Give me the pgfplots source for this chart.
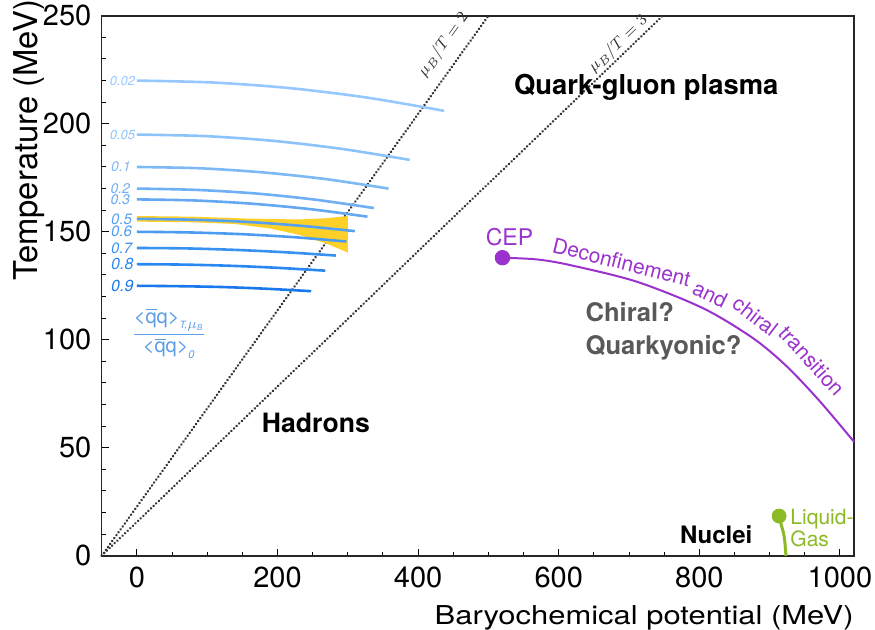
\documentclass[border=0pt]{standalone}
\usepackage{pgfplots}
\pgfplotsset{compat=1.18}
\usepackage{graphicx}
\usepackage{fontspec}
\setmainfont{TeX Gyre Heros}

\definecolor{ca}{HTML}{96C8FF}
\definecolor{cb}{HTML}{8CC3FA}
\definecolor{cc}{HTML}{7DB9F5}
\definecolor{cd}{HTML}{6EAFF5}
\definecolor{ce}{HTML}{64A8F2}
\definecolor{cf}{HTML}{55A0F0}
\definecolor{cg}{HTML}{4B9BF0}
\definecolor{ch}{HTML}{3791F0}
\definecolor{ci}{HTML}{2887F0}
\definecolor{cj}{HTML}{1978EB}
\definecolor{bandy}{HTML}{FFD028}
\definecolor{purp}{HTML}{9B32CD}
\definecolor{greenc}{HTML}{8CBA25}
\definecolor{grayc}{HTML}{595959}
\definecolor{dotc}{HTML}{333333}
\definecolor{fracc}{HTML}{5B9EE6}

\begin{document}
\begin{tikzpicture}
\path (-50.85pt,-36.65pt) rectangle (386.65pt,277.85pt);
\begin{axis}[
  at={(0,0)}, anchor=south west,
  scale only axis, width=376.15pt, height=270pt,
  xmin=-50, xmax=1020, ymin=0, ymax=250,
  clip=false,
  xtick={0,200,...,1000}, ytick={0,50,...,250},
  minor x tick num=3, minor y tick num=4,
  tick pos=left, tick align=inside,
  major tick length=3.5pt, minor tick length=2pt,
  every tick/.style={black, line width=0.5pt},
  axis line style={line width=0.8pt, black!85},
  /pgf/number format/assume math mode=true,
  /pgf/number format/1000 sep={},
  ticklabel style={font=\fontsize{14.5}{14.5}\selectfont},
  yticklabel style={inner sep=0pt, xshift=-5pt},
  xticklabel style={inner sep=0pt, yshift=-5.5pt},
  xlabel={\scalebox{1.19}[1]{Baryochemical potential (MeV)}},
  ylabel={Temperature (MeV)},
  xlabel style={font=\fontsize{13}{13}\selectfont, inner sep=0pt, at={(rel axis cs:1,0)}, yshift=-24.5pt, anchor=north east},
  ylabel style={font=\fontsize{16.4}{16.4}\selectfont, inner sep=0pt, at={(rel axis cs:-0.0754,1.03)}, anchor=south east},
]
% dotted mu_B/T lines
\addplot[dotc, line width=1.3pt, line cap=round, dash pattern=on 0.1pt off 1.7pt] coordinates {(-50,0) (500,250)};
\addplot[dotc, line width=1.3pt, line cap=round, dash pattern=on 0.1pt off 1.7pt] coordinates {(-50,0) (748,250)};

% yellow band
\addplot[fill=bandy, draw=none] coordinates {(0,157.3) (80,157) (160,156.1) (230,155.7) (270,156.3) (300,157.3) (300,140.4) (270,144.5) (232,148.5) (190,151.5) (140,153.6) (80,154.4) (0,154.7)} -- cycle;

% chiral condensate contours
\addplot[ca, line width=1.3pt, smooth] coordinates {(0,220) (109,219.1) (218,216.5) (328,212.1) (437,206)};
\addplot[cb, line width=1.3pt, smooth] coordinates {(0,195) (97,194.3) (194,192.1) (291,188.4) (388,183.3)};
\addplot[cc, line width=1.3pt, smooth] coordinates {(0,180) (89.5,179.4) (179,177.5) (268.5,174.4) (358,170)};
\addplot[cd, line width=1.3pt, smooth] coordinates {(0,170) (84,169.4) (168.5,167.75) (253,164.9) (337,161)};
\addplot[ce, line width=1.3pt, smooth] coordinates {(0,165) (82,164.5) (164,163) (246,160.5) (328,157)};
\addplot[cf, line width=1.3pt, smooth] coordinates {(0,156) (77.5,155.6) (155,154.6) (232.5,152.8) (310,150.3)};
\addplot[cg, line width=1.3pt, smooth] coordinates {(0,150) (74.5,149.7) (149,148.9) (223.5,147.5) (298,145.5)};
\addplot[ch, line width=1.3pt, smooth] coordinates {(0,142.5) (70.75,142.3) (141.5,141.6) (212.25,140.5) (283,139)};
\addplot[ci, line width=1.3pt, smooth] coordinates {(0,135) (67,134.8) (134,134.25) (201,133.3) (268,132)};
\addplot[cj, line width=1.3pt, smooth] coordinates {(0,125) (62,124.8) (124,124.4) (186,123.6) (248,122.5)};

% contour labels
\node[anchor=west, inner sep=0pt, text=ca, font=\itshape\fontsize{6.5}{6.5}\selectfont] at (axis cs:-39,220) {0.02};
\node[anchor=west, inner sep=0pt, text=cb, font=\itshape\fontsize{6.5}{6.5}\selectfont] at (axis cs:-39,195) {0.05};
\node[anchor=west, inner sep=0pt, text=cc, font=\itshape\fontsize{7}{7}\selectfont] at (axis cs:-37,180) {0.1};
\node[anchor=west, inner sep=0pt, text=cd, font=\itshape\fontsize{7}{7}\selectfont] at (axis cs:-38,170) {0.2};
\node[anchor=west, inner sep=0pt, text=ce, font=\itshape\fontsize{7}{7}\selectfont] at (axis cs:-38,165) {0.3};
\node[anchor=west, inner sep=0pt, text=cf, font=\itshape\fontsize{7.5}{7.5}\selectfont] at (axis cs:-37,156) {0.5};
\node[anchor=west, inner sep=0pt, text=cg, font=\itshape\fontsize{7.5}{7.5}\selectfont] at (axis cs:-37,150) {0.6};
\node[anchor=west, inner sep=0pt, text=ch, font=\itshape\fontsize{7.5}{7.5}\selectfont] at (axis cs:-37,142.5) {0.7};
\node[anchor=west, inner sep=0pt, text=ci, font=\itshape\fontsize{8}{8}\selectfont] at (axis cs:-37,135) {0.8};
\node[anchor=west, inner sep=0pt, text=cj, font=\itshape\fontsize{8}{8}\selectfont] at (axis cs:-37,125) {0.9};

% condensate ratio label
\node[text=fracc, font=\fontsize{10}{10}\selectfont] at (axis cs:46,103) {$\displaystyle\frac{\mbox{<}\overline{\mbox{q}}\mbox{q>}_{\mbox{\fontsize{5}{5}\selectfont\itshape T,}\mu_{\mbox{\fontsize{4}{4}\selectfont\itshape B}}}}{\mbox{<}\overline{\mbox{q}}\mbox{q>}_{\mbox{\fontsize{5.5}{5.5}\selectfont\itshape 0}}}$};

% mu_B/T labels
\node[rotate=54.3, inner sep=0pt, text=dotc, font=\fontsize{8.5}{8.5}\selectfont] at (axis cs:436,236.6) {$\mu_B/T = 2$};
\node[rotate=43.8, inner sep=0pt, text=dotc, font=\fontsize{8.5}{8.5}\selectfont] at (axis cs:684.6,236.9) {$\mu_B/T = 3$};

% deconfinement transition line
\addplot[purp, line width=1pt, smooth] coordinates {(520,138) (569,137.2) (616,134.6) (711,126.9) (806,114.5) (877,100.6) (925,87.5) (972,71.3) (1020,52.8)};
\addplot[only marks, mark=*, mark size=3.65pt, purp] coordinates {(520,138)};
\node[text=purp, inner sep=0pt, font=\fontsize{11.5}{11.5}\selectfont] at (axis cs:530,147.5) {CEP};
\node[text=purp, inner sep=0pt, font=\fontsize{10.5}{10.5}\selectfont, rotate=-14] at (axis cs:689.6,136) {Deconfinement};
\node[text=purp, inner sep=0pt, font=\fontsize{10.5}{10.5}\selectfont, rotate=-26] at (axis cs:815.5,121.2) {and};
\node[text=purp, inner sep=0pt, font=\fontsize{10.5}{10.5}\selectfont, rotate=-37.5] at (axis cs:879.5,111) {chiral};
\node[text=purp, inner sep=0pt, font=\fontsize{10.5}{10.5}\selectfont, rotate=-48] at (axis cs:960,90.2) {transition};

% liquid-gas
\addplot[greenc, line width=1.5pt, smooth] coordinates {(913.5,18.4) (916,15) (920.8,8.8) (923.2,0)};
\addplot[only marks, mark=*, mark size=3.5pt, greenc] coordinates {(913.5,18.4)};
\node[anchor=west, align=left, inner sep=0pt, text=greenc, font=\fontsize{10.5}{9.5}\selectfont] at (axis cs:929,13) {Liquid-\\Gas};

% region labels
\node[font=\bfseries\fontsize{13.7}{13.7}\selectfont] at (axis cs:724.5,217) {Quark-gluon plasma};
\node[font=\bfseries\fontsize{13.3}{13.3}\selectfont] at (axis cs:254.6,61.3) {Hadrons};
\node[anchor=west, align=left, inner sep=0pt, text=grayc, font=\bfseries\fontsize{12.8}{16.25}\selectfont] at (axis cs:637.7,104) {Chiral?\\Quarkyonic?};
\node[font=\bfseries\fontsize{12}{12}\selectfont] at (axis cs:824,10) {Nuclei};
\end{axis}
\end{tikzpicture}
\end{document}
